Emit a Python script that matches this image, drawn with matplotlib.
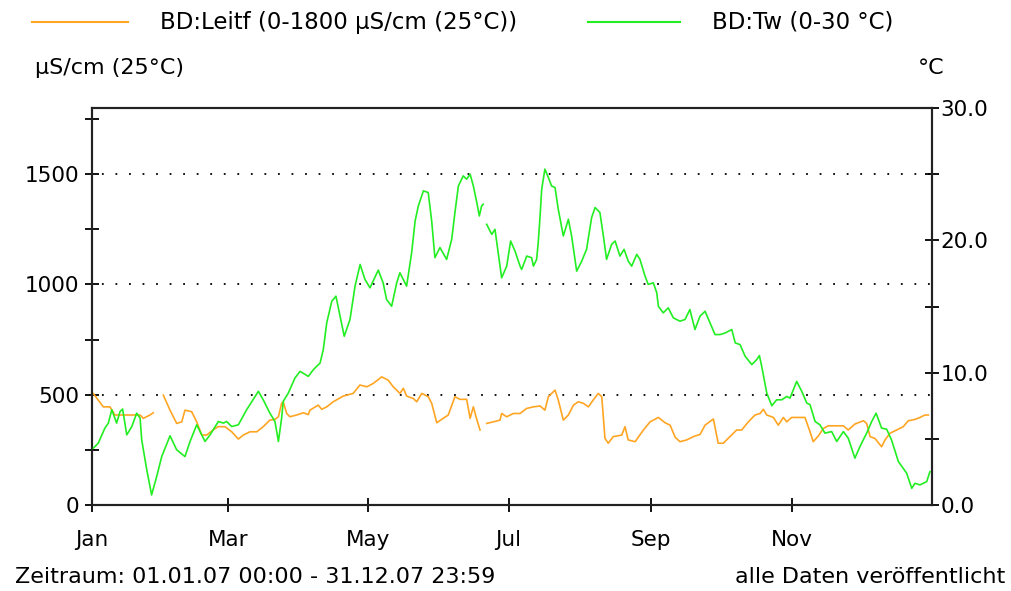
import matplotlib
matplotlib.use("Agg")
import matplotlib.pyplot as plt
import matplotlib.dates as mdates
import numpy as np
import pandas as pd
from matplotlib.ticker import FuncFormatter, MultipleLocator

plt.rcParams["font.family"] = ["DejaVu Sans"]
FS = 15.5
FS_TEXT = 16.5
FS_FOOT = 16

START = pd.Timestamp("2007-01-01")
END = pd.Timestamp("2007-12-31 23:59")

# Leitfähigkeit (µS/cm), Tag im Jahr -> Wert; nan = Datenlücke
leitf_day = [0.6, 4.9, 7.8, 10, 15.1, 20.9, 22.3, 25.2, 26.6, 28.5,
             31.0, 33.9, 36.8, 39.0, 40.4, 43.3, 45.5, 47.7, 49.8, 52.6,
             54.7, 57.8, 60.7, 63.6, 65.7, 68.7, 71.6, 74.4, 77.3, 79.5,
             81.0, 82.4, 83.1, 84.6, 86.0, 88.9, 91.8, 94.0, 94.7, 98.3,
             99.8, 102, 104.8, 109.2, 113.5, 116.4, 119.4, 122.2, 125.9, 128.7,
             130.9, 133.8, 135.3, 136.7, 139.6, 141.1, 143.3, 146.1, 147.6, 149.8,
             152.6, 154.8, 157.7, 159.9, 162.8, 164.3, 165.7, 167.2, 168.6, 170,
             171.5, 174.4, 177.3, 178, 180.2, 183.1, 186, 188.9, 191.8, 194.7,
             196.8, 198.3, 201.2, 202.6, 204.8, 207, 209.2, 211.3, 213.5, 215.7,
             217.8, 220, 221.5, 222.9, 224.3, 226.5, 230.2, 231.6, 233, 236,
             239.6, 242.5, 246.1, 249, 251.2, 253.4, 255.5, 258.4, 261.3, 264.2,
             266.4, 270, 272.1, 274.3, 277.2, 280.1, 282.3, 285.2, 288.1, 290.3,
             291.7, 293.2, 296.1, 298.2, 300.4, 301.9, 304, 307.6, 309.8, 312,
             313.4, 315.6, 317.8, 319.9, 326.5, 328.6, 331.5, 335.2, 336.6, 338.1,
             340.2, 343.1, 344.6, 346.7, 349.6, 352.5, 354.7, 357.6, 359.8, 361.9,
             363.4]
leitf_val = [505, 445, 445, 408, 408, 408, 393, 408, 418, np.nan,
             498, 430, 370, 377, 430, 423, 377, 317, 317, 340,
             355, 355, 332, 299, 317, 332, 332, 355, 385, 388,
             400, 461, 468, 415, 400, 408, 418, 410, 430, 453,
             434, 445, 468, 494, 506, 544, 536, 551, 581, 566,
             536, 506, 529, 494, 483, 468, 506, 491, 461, 373,
             393, 408, 491, 479, 479, 393, 445, 388, 340, np.nan,
             370, 377, 385, 415, 400, 415, 415, 438, 445, 449,
             430, 491, 521, 476, 385, 408, 453, 468, 461, 445,
             476, 506, 491, 302, 280, 310, 317, 355, 295, 287,
             340, 377, 397, 373, 362, 307, 287, 295, 310, 320,
             362, 390, 280, 280, 310, 340, 340, 377, 408, 415,
             434, 408, 397, 362, 397, 377, 397, 397, 397, 332,
             287, 313, 347, 359, 359, 340, 367, 382, 370, 310,
             302, 264, 295, 325, 340, 355, 382, 388, 397, 408,
             408]

# Wassertemperatur (°C)
tw_day = [0.6, 2.7, 5.6, 7.1, 8.6, 10.7, 12.2, 13.3, 15.1, 17.3,
          19.4, 20.9, 21.6, 23.8, 25.9, 28.1, 30.3, 33.9, 36.8, 40.4,
          42.6, 45.5, 49.1, 51.3, 54.9, 57.1, 58.5, 60.7, 63.6, 67.2,
          72.3, 74.4, 77.3, 79.5, 81, 82.4, 83.1, 85.3, 88.2, 90.4,
          94, 96.2, 99.1, 100.5, 102, 104.2, 106, 107.8, 109.6, 112.1,
          114.3, 116.5, 118.6, 120.8, 124.4, 126.5, 128, 130.2, 132.4, 133.8,
          136.7, 138.9, 140.4, 141.8, 144, 146.1, 147.6, 149, 151.2, 154.1,
          156.3, 157.7, 159.2, 161.3, 162.8, 164.3, 165.7, 167.2, 168.3, 169.3,
          170, 170.8, 171.5, 173.7, 175.1, 176.5, 178, 180.2, 181.9, 183.8,
          186, 186.7, 188.9, 191, 191.8, 193.2, 193.9, 194.7, 195.4, 196.8,
          198.3, 199.7, 201.2, 202.6, 204.8, 207, 208.4, 210.6, 212.8, 214.9,
          217.1, 218.6, 220.7, 222.2, 223.6, 225.8, 227.3, 229.4, 231.2, 233,
          234.5, 236.7, 238.1, 240.3, 241.7, 243.9, 245.4, 246.1, 248.2, 250.4,
          252.6, 255.5, 257.7, 259.8, 262, 264.2, 266.4, 268.5, 270.7, 272.9,
          275.1, 278, 279.5, 281.6, 283.8, 286.7, 288.8, 290, 291, 293.2,
          295.4, 297.5, 299.7, 301.9, 303.3, 306.2, 308.4, 310.6, 312, 314.2,
          316.3, 318.5, 321.4, 323.6, 326.5, 328.6, 331.5, 333.7, 336.6, 338.8,
          340.7, 343.1, 345.3, 347.4, 350.4, 354, 356.2, 357.6, 359.8, 362.7,
          364.1]
tw_val = [4.30, 4.67, 5.81, 6.19, 7.20, 6.19, 7.07, 7.25, 5.30, 5.93,
          6.94, 6.57, 4.92, 2.65, 0.76, 2.15, 3.66, 5.23, 4.17, 3.66,
          4.80, 6.06, 4.80, 5.30, 6.31, 6.19, 6.31, 5.93, 6.06, 7.20,
          8.59, 7.95, 6.94, 6.31, 4.80, 6.57, 7.83, 8.46, 9.60, 10.10,
          9.72, 10.23, 10.73, 11.74, 13.77, 15.40, 15.78, 14.27, 12.75, 14.02,
          16.54, 18.18, 17.05, 16.41, 17.75, 16.79, 15.53, 15.02, 16.79, 17.55,
          16.54, 19.07, 21.46, 22.60, 23.74, 23.61, 21.46, 18.69, 19.45, 18.56,
          20.08, 22.10, 24.11, 24.87, 24.62, 25.00, 24.11, 22.86, 21.84, 22.60,
          22.73, np.nan, 21.21, 20.45, 20.83, 19.07, 17.17, 18.05, 19.95, 19.19,
          18.05, 17.80, 18.81, 18.69, 18.05, 18.56, 19.83, 21.84, 23.86, 25.38,
          24.75, 24.11, 23.99, 22.35, 20.33, 21.59, 20.33, 17.67, 18.43, 19.32,
          21.72, 22.48, 22.10, 20.33, 18.56, 19.70, 19.95, 18.81, 19.32, 18.43,
          18.05, 18.94, 18.56, 17.30, 16.67, 16.79, 16.04, 15.02, 14.52, 14.90,
          14.14, 13.89, 14.02, 14.77, 13.26, 14.27, 14.64, 13.77, 12.88, 12.88,
          13.00, 13.26, 12.25, 12.12, 11.24, 10.61, 10.98, 11.29, 10.48, 8.46,
          7.50, 7.95, 7.95, 8.20, 8.08, 9.34, 8.59, 7.70, 7.58, 6.31,
          6.06, 5.43, 5.55, 4.80, 5.55, 5.05, 3.54, 4.42, 5.43, 6.31,
          6.94, 5.81, 5.73, 4.92, 3.28, 2.40, 1.26, 1.64, 1.52, 1.77,
          2.52]

LEITF_COLOR = "#FFA524"
TW_COLOR = "#22EE22"

leitf_t = START + pd.to_timedelta(leitf_day, unit="D")
tw_t = START + pd.to_timedelta(tw_day, unit="D")

fig = plt.figure(figsize=(10.11, 5.91), dpi=100)
ax = fig.add_axes([92 / 1011, 1 - 505 / 591, 840 / 1011, 397 / 591])
ax2 = ax.twinx()

ax.plot(leitf_t, leitf_val, color=LEITF_COLOR, lw=1.2, zorder=3)
ax2.plot(tw_t, tw_val, color=TW_COLOR, lw=1.2, zorder=3)

ax.set_xlim(START, END)
ax.set_ylim(0, 1800)
ax2.set_ylim(0, 30)

for y in [500, 1000, 1500]:
    ax.axhline(y, color="black", lw=1.3, ls=(2, (1, 6.5)), zorder=1)

ax.yaxis.set_major_locator(MultipleLocator(250))
ax.yaxis.set_major_formatter(FuncFormatter(lambda v, p: f"{v:.0f}" if v % 500 == 0 else ""))
ax2.yaxis.set_major_locator(MultipleLocator(5))
ax2.yaxis.set_major_formatter(FuncFormatter(lambda v, p: f"{v:.1f}" if v % 10 == 0 else ""))

ax.xaxis.set_major_locator(mdates.MonthLocator(bymonth=[1, 3, 5, 7, 9, 11]))
ax.xaxis.set_major_formatter(mdates.DateFormatter("%b"))

ax.tick_params(axis="y", direction="inout", length=10, width=1.3, labelsize=FS, pad=4)
ax2.tick_params(axis="y", direction="inout", length=10, width=1.3, labelsize=FS, pad=1)
ax.tick_params(axis="x", direction="inout", length=10, width=1.3, labelsize=FS, pad=13)

for a in (ax, ax2):
    for s in a.spines.values():
        s.set_linewidth(1.5)
        s.set_color("#222222")

# Legende oben
fig.add_artist(plt.Line2D([32 / 1011, 128 / 1011], [1 - 22 / 591] * 2, color=LEITF_COLOR, lw=1.5))
fig.text(160 / 1011, 1 - 22 / 591, "BD:Leitf (0-1800 µS/cm (25°C))", fontsize=FS_TEXT, va="center", ha="left")
fig.add_artist(plt.Line2D([588 / 1011, 680 / 1011], [1 - 22 / 591] * 2, color=TW_COLOR, lw=1.5))
fig.text(712 / 1011, 1 - 22 / 591, "BD:Tw (0-30 °C)", fontsize=FS_TEXT, va="center", ha="left")

fig.text(35 / 1011, 1 - 68 / 591, "µS/cm (25°C)", fontsize=FS_FOOT, va="center", ha="left")
fig.text(945 / 1011, 1 - 68 / 591, "°C", fontsize=FS_FOOT, va="center", ha="right")

fig.text(15 / 1011, 1 - 577 / 591, "Zeitraum: 01.01.07 00:00 - 31.12.07 23:59", fontsize=FS_FOOT, va="center", ha="left")
fig.text(1005 / 1011, 1 - 577 / 591, "alle Daten veröffentlicht", fontsize=FS_FOOT, va="center", ha="right")

fig.savefig("out.png", dpi=100)
